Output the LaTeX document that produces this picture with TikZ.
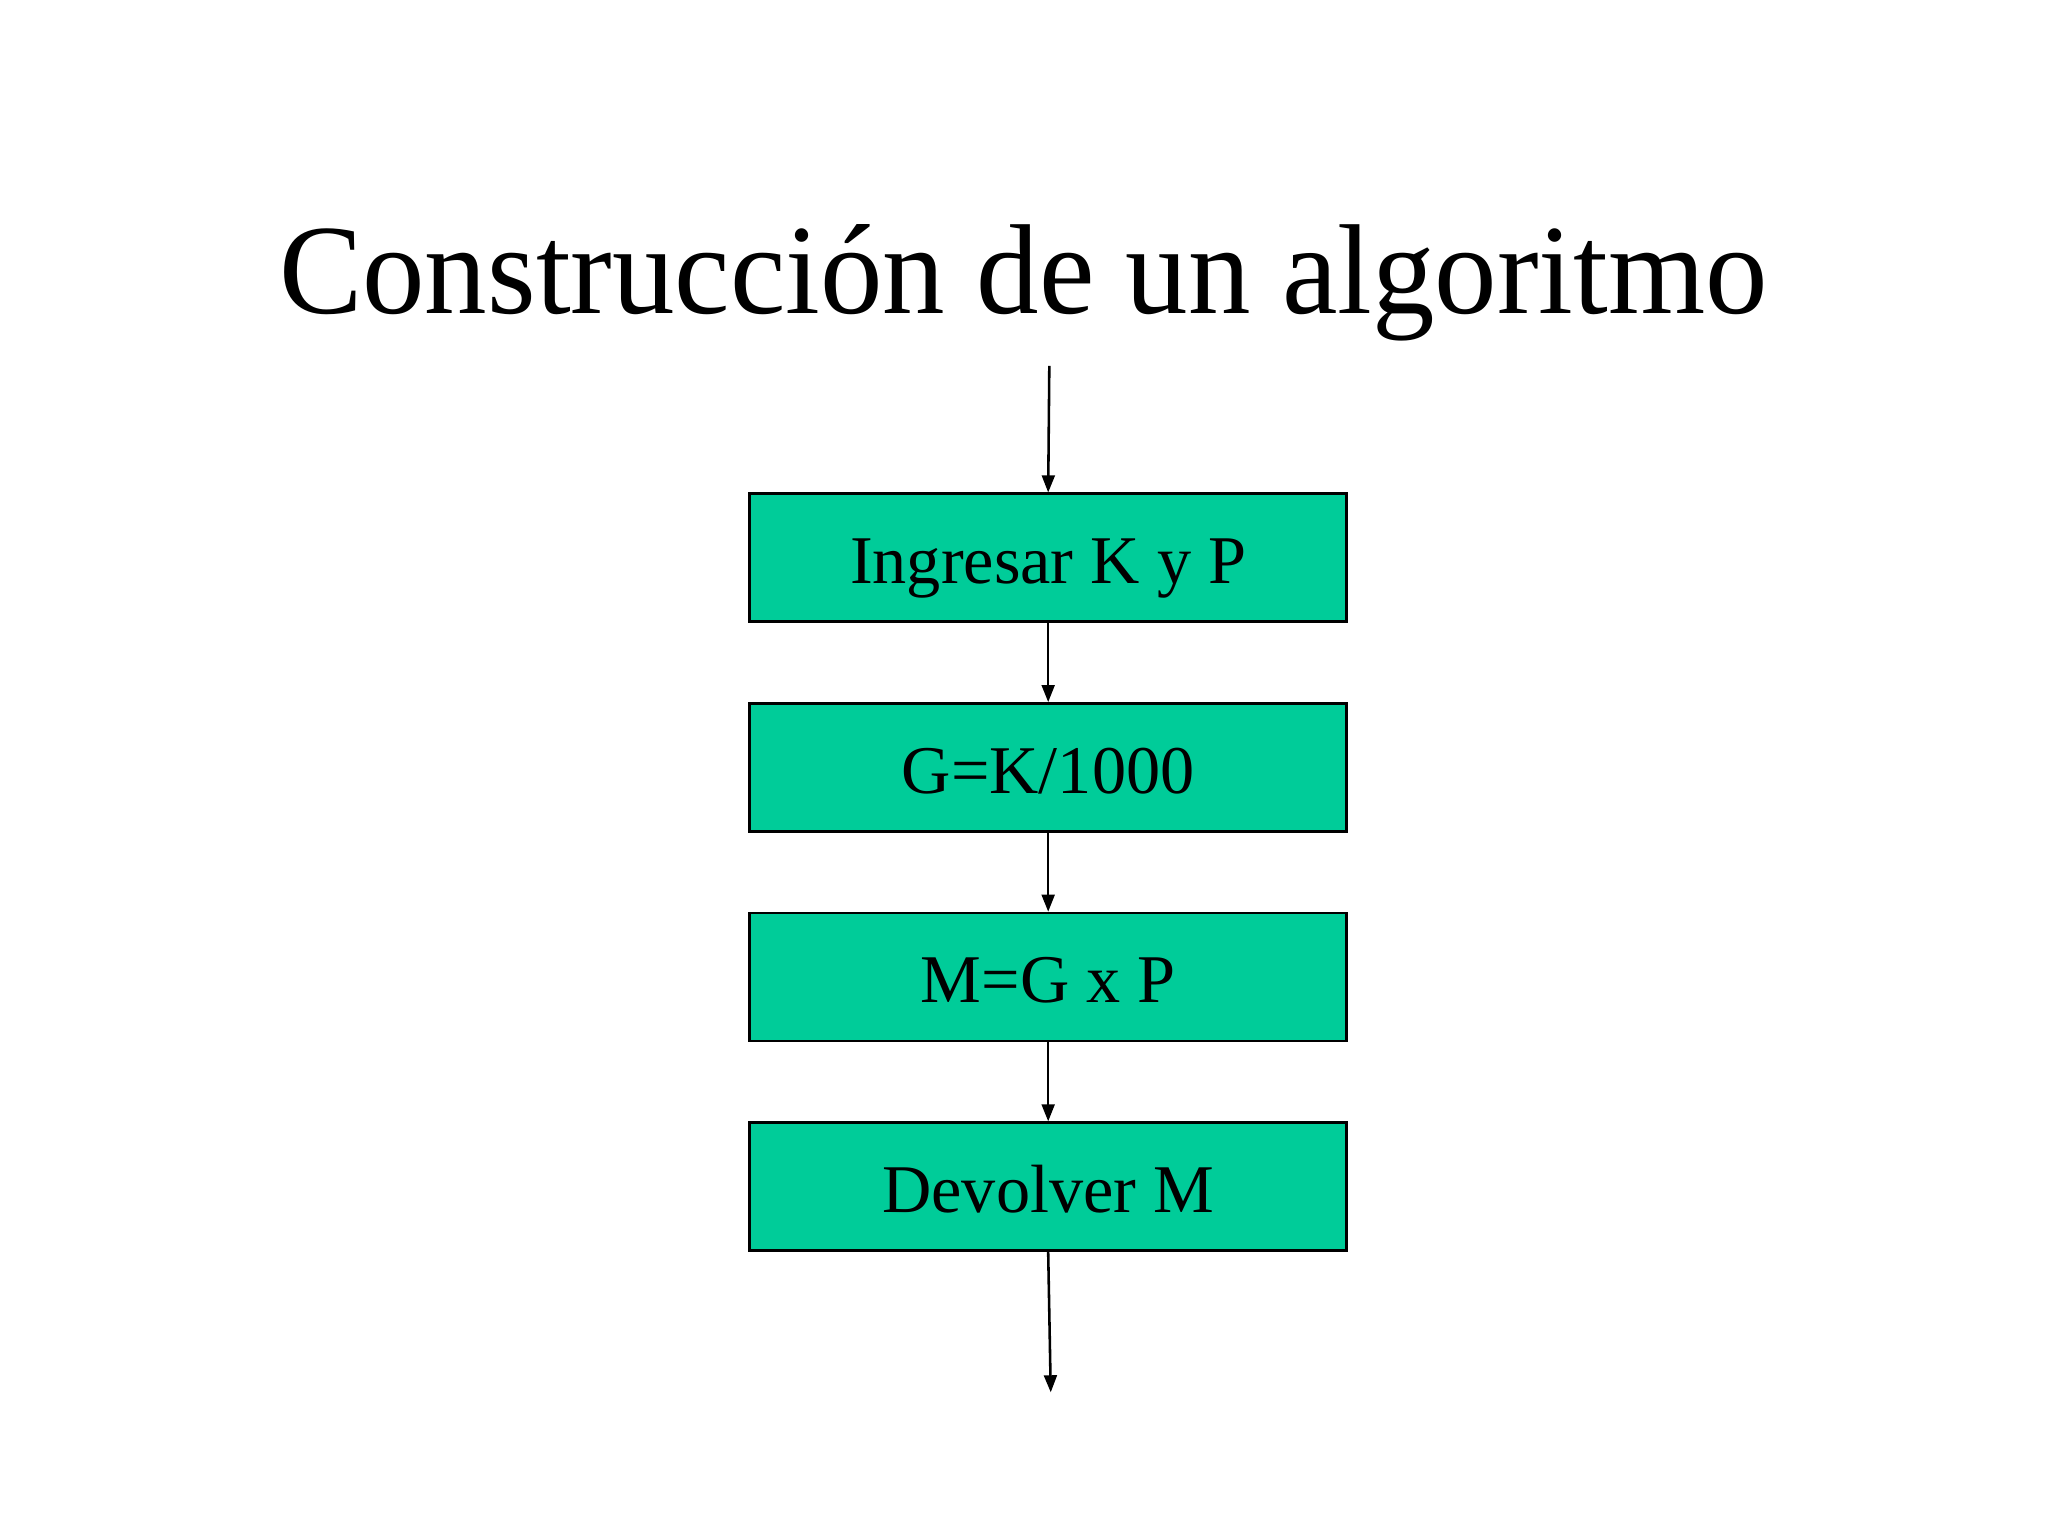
\documentclass[tikz,border=0pt]{standalone}
\usepackage{fontspec}
\setmainfont{Liberation Serif}
\usetikzlibrary{arrows.meta}
\definecolor{boxgreen}{RGB}{0,204,153}
\begin{document}
\begin{tikzpicture}[x=1pt,y=1pt,
  stepbox/.style={draw=black, line width=0.9pt, fill=boxgreen, minimum width=209.9pt, minimum height=45pt, inner sep=0pt, text height=18pt, text depth=0pt, font=\fontsize{24}{28}\selectfont},
  flow/.style={draw=black, line width=0.9pt, -{Triangle[length=6pt,width=4.5pt]}}]
\useasboundingbox (0,0) rectangle (720,540);
\fill[white] (0,0) rectangle (720,540);
\node[anchor=base, inner sep=0pt, font=\fontsize{45}{50}\selectfont] (title) at (359.8,429.8) {\scalebox{0.976}[1]{Construcción de un algoritmo}};
\node[stepbox] (b1) at (368.5,343.9) {Ingresar K y P};
\node[stepbox] (b2) at (368.5,270.2) {G=K/1000};
\node[stepbox] (b3) at (368.5,196.5) {M=G x P};
\node[stepbox] (b4) at (368.5,122.8) {Devolver M};
\coordinate (start) at (368.9,411.4);
\coordinate (finish) at (369.4,50.5);
\draw[flow] (start) -- (b1.north);
\draw[flow] (b1.south) -- (b2.north);
\draw[flow] (b2.south) -- (b3.north);
\draw[flow] (b3.south) -- (b4.north);
\draw[flow] (b4.south) -- (finish);
\end{tikzpicture}
\end{document}
